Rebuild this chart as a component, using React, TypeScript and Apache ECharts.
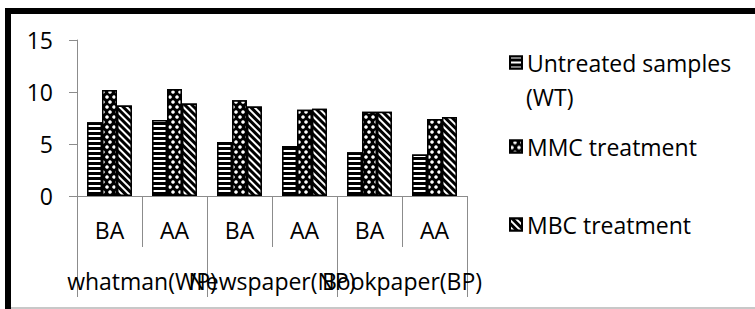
import React, { useEffect, useRef } from "react";
import * as echarts from "echarts";

const subCategories = ["BA", "AA", "BA", "AA", "BA", "AA"];
const groupCategories = ["whatman(WP)", "Newspaper(NP)", "Bookpaper(BP)"];
const seriesNames = ["Untreated samples (WT)", "MMC treatment", "MBC treatment"];
const untreated = [7.1, 7.3, 5.2, 4.8, 4.2, 4.0];
const mmc = [10.2, 10.3, 9.2, 8.3, 8.1, 7.4];
const mbc = [8.7, 8.9, 8.6, 8.4, 8.1, 7.6];
const yTicks = { min: 0, max: 15, interval: 5 };

const FONT = "Open Sans";
const FS = 23;
const AXIS_GRAY = "#8c8c8c";

export default function App() {
  const ref = useRef<HTMLDivElement>(null);
  useEffect(() => {
    if (!ref.current) return;
    const chart = echarts.init(ref.current, null, { renderer: "svg" });
    const decals: any[] = [
      {
        symbol: "rect",
        symbolSize: 1,
        color: "#ffffff",
        dashArrayX: [10, 0],
        dashArrayY: [2, 3],
        rotation: 0,
      },
      {
        symbol: "circle",
        symbolSize: 0.9,
        color: "#ffffff",
        dashArrayX: [[4, 3], [0, 3, 4, 0]],
        dashArrayY: [4, 1],
        rotation: 0,
      },
      {
        symbol: "rect",
        symbolSize: 1,
        color: "#ffffff",
        dashArrayX: [10, 0],
        dashArrayY: [2, 3],
        rotation: Math.PI / 4,
      },
    ];
    const data = [untreated, mmc, mbc];
    const option: any = {
      animation: false,
      aria: { enabled: true, label: { enabled: false }, decal: { show: true } },
      textStyle: { fontFamily: FONT, color: "#000" },
      grid: {
        left: 77,
        right: 288,
        top: 40,
        bottom: 113,
        containLabel: false,
        outerBoundsMode: "none",
      },
      xAxis: [
        {
          type: "category",
          position: "bottom",
          data: subCategories,
          axisLine: { show: true, lineStyle: { color: AXIS_GRAY, width: 1 } },
          axisTick: {
            show: true,
            interval: 0,
            length: 51,
            lineStyle: { color: AXIS_GRAY, width: 1 },
          },
          axisLabel: {
            interval: 0,
            margin: 22,
            fontSize: FS,
            fontFamily: FONT,
            color: "#000",
          },
          splitLine: { show: false },
        },
        {
          type: "category",
          position: "bottom",
          data: groupCategories,
          axisLine: { show: false },
          axisTick: {
            show: true,
            interval: 0,
            length: 101,
            lineStyle: { color: AXIS_GRAY, width: 1 },
          },
          axisLabel: {
            interval: 0,
            margin: 73,
            fontSize: FS,
            fontFamily: FONT,
            color: "#000",
            hideOverlap: false,
          },
          splitLine: { show: false },
        },
      ],
      yAxis: {
        type: "value",
        min: yTicks.min,
        max: yTicks.max,
        interval: yTicks.interval,
        axisLine: { show: true, lineStyle: { color: AXIS_GRAY, width: 1 } },
        axisTick: { show: true, length: 8, lineStyle: { color: AXIS_GRAY } },
        axisLabel: { margin: 24, fontSize: FS, fontFamily: FONT, color: "#000" },
        splitLine: { show: false },
      },
      legend: seriesNames.map((n, i) => ({
        data: [n],
        orient: "vertical",
        left: 504,
        top: [46, 130, 208][i],
        icon: "rect",
        itemWidth: 12,
        itemHeight: 12,
        selectedMode: false,
        formatter: (name: string) =>
          name === "Untreated samples (WT)" ? "Untreated samples" : name,
        textStyle: { fontSize: FS, fontFamily: FONT, color: "#000" },
      })),
      graphic: [
        { type: "rect", shape: { x: 5, y: 8, width: 750, height: 6 }, style: { fill: "#000" }, silent: true },
        { type: "rect", shape: { x: 5, y: 8, width: 6, height: 301 }, style: { fill: "#000" }, silent: true },
        { type: "rect", shape: { x: 11, y: 307, width: 744, height: 2 }, style: { fill: "#c8c8c8" }, silent: true },
        {
          type: "text",
          x: 526,
          y: 97,
          style: {
            text: "(WT)",
            fontSize: FS,
            fontFamily: FONT,
            fill: "#000",
            verticalAlign: "middle",
          },
          silent: true,
        },
      ],
      series: seriesNames.map((n, i) => ({
        name: n,
        type: "bar",
        xAxisIndex: 0,
        data: data[i],
        barGap: "0%",
        barCategoryGap: "31%",
        itemStyle: {
          color: "#000",
          borderColor: "#000",
          borderWidth: 1.5,
          decal: decals[i],
        },
      })),
    };
    chart.setOption(option);
    return () => chart.dispose();
  }, []);
  return (
    <div
      ref={ref}
      style={{ position: "fixed", left: 0, top: 0, width: 755, height: 309, background: "#fff" }}
    />
  );
}
